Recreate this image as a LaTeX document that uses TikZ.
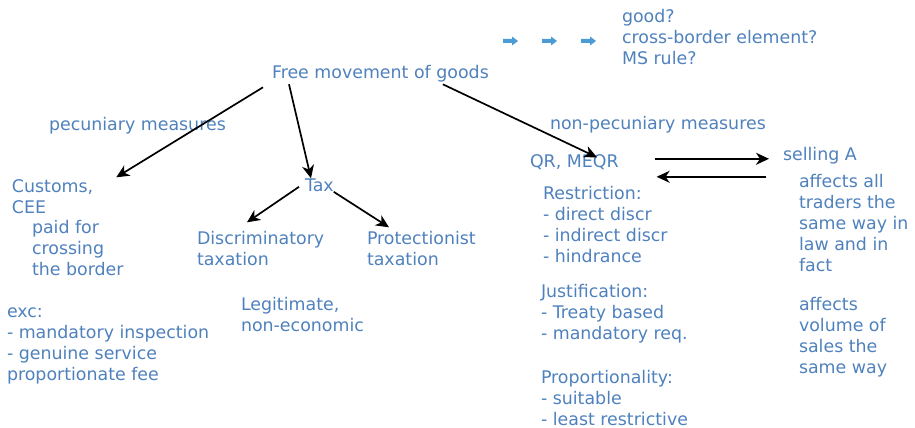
\documentclass[tikz,border=0pt]{standalone}
\usepackage{fontspec}
\setmainfont{DejaVu Sans}
\usetikzlibrary{arrows.meta,calc}
\definecolor{txtblue}{RGB}{79,129,189}
\definecolor{arrblue}{RGB}{75,155,213}
\tikzset{
  txt/.style={anchor=base west, inner sep=0pt, outer sep=0pt, text=txtblue,
    font=\fontsize{17.4}{21}\selectfont},
  arr/.style={draw=black, line width=1.7pt, -{Stealth[length=13pt,width=12pt,inset=4pt]}},
  blk/.style={fill=arrblue, draw=none}
}
\newcommand{\blines}[1]{\begin{tabular}[t]{@{}l@{}}#1\end{tabular}}
\begin{document}
\begin{tikzpicture}[x=1pt,y=-1pt]
\useasboundingbox (0,0) rectangle (915,428);
% small blue block arrows
\foreach \x in {503,542,581}{
  \fill[blk] (\x,39) -- (\x+9,39) -- (\x+9,36.5) -- (\x+15,41) -- (\x+9,45.5) -- (\x+9,43) -- (\x,43) -- cycle;
}
\node[txt] (q) at (622,23) {\blines{good?\\cross-border element?\\MS rule?}};
\node[txt] (free) at (272,78) {\blines{Free movement of goods}};
\node[txt] (pec) at (49,130) {\blines{pecuniary measures}};
\node[txt] (cust) at (12,192) {\blines{Customs,\\CEE}};
\node[txt] (paid) at (32,233) {\blines{paid for\\crossing\\the border}};
\node[txt] (tax) at (305,191) {\blines{Tax}};
\node[txt] (disc) at (197,244) {\blines{Discriminatory\\taxation}};
\node[txt] (prot) at (367,244) {\blines{Protectionist\\taxation}};
\node[txt] (exc) at (7,317) {\blines{exc:\\- mandatory inspection\\- genuine service\\proportionate fee}};
\node[txt] (legit) at (241,310) {\blines{Legitimate,\\non-economic}};
\node[txt] (npec) at (550,129) {\blines{non-pecuniary measures}};
\node[txt] (qr) at (530,167) {\blines{QR, MEQR}};
\node[txt] (sell) at (783,160) {\blines{selling A}};
\node[txt] (restr) at (543,199) {\blines{Restriction:\\- direct discr\\- indirect discr\\- hindrance}};
\node[txt] (aff1) at (799,187) {\blines{affects all\\traders the\\same way in\\law and in\\fact}};
\node[txt] (just) at (541,297) {\blines{Justification:\\- Treaty based\\- mandatory req.}};
\node[txt] (prop) at (541,383) {\blines{Proportionality:\\- suitable\\- least restrictive}};
\node[txt] (aff2) at (799,310) {\blines{affects\\volume of\\sales the\\same way}};
% connectors
\draw[arr] ($(free.south west)+(-9,3)$) -- ($(cust.north east)+(23,0)$);
\draw[arr] ($(free.south west)+(17,0)$) -- ($(tax.north west)+(6,2)$);
\draw[arr] ($(free.south east)+(-46,0)$) -- ($(qr.north west)+(67,5)$);
\draw[arr] ($(tax.west)+(-6,0)$) -- ($(disc.north west)+(50,-7)$);
\draw[arr] ($(tax.east)+(0,5)$) -- ($(prot.north west)+(22,-2)$);
\draw[arr] ($(qr.east)+(36,-4)$) -- ($(sell.west)+(-14,3)$);
\draw[arr] ($(sell.west)+(-17,21)$) -- ($(qr.east)+(38,14)$);
\end{tikzpicture}
\end{document}
